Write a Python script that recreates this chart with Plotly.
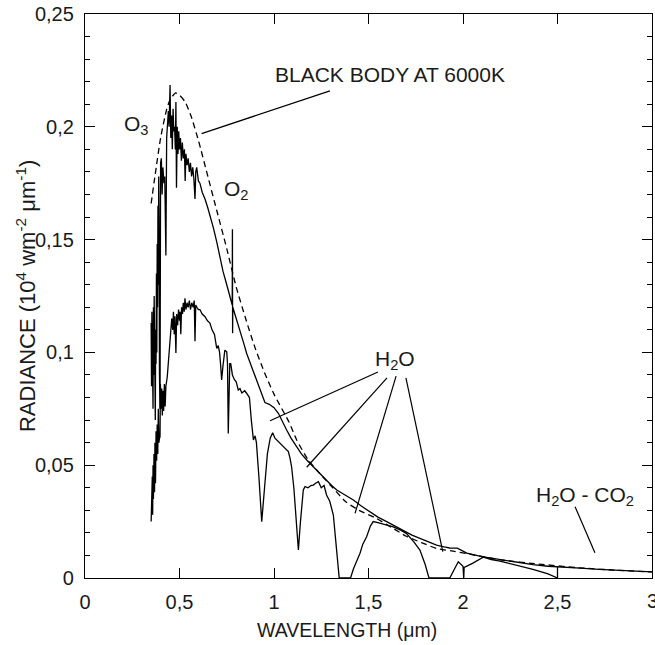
import plotly.graph_objects as go

# ---------------- data ----------------
bb_x = [0.35, 0.37, 0.40, 0.43, 0.45, 0.48, 0.50, 0.53, 0.56, 0.60, 0.65, 0.70, 0.75, 0.80,
        0.85, 0.90, 0.95, 1.00, 1.08, 1.12, 1.18, 1.24, 1.30, 1.38, 1.45, 1.54, 1.62, 1.70,
        1.78, 1.86, 1.94, 2.02, 2.2, 2.4, 2.6, 2.8, 3.0]
bb_y = [0.166, 0.178, 0.195, 0.207, 0.212, 0.215, 0.214, 0.211, 0.205, 0.194, 0.178, 0.162,
        0.146, 0.129, 0.115, 0.102, 0.091, 0.0815, 0.069, 0.0612, 0.0525, 0.0465, 0.041,
        0.0338, 0.0300, 0.0265, 0.0225, 0.0185, 0.0157, 0.0131, 0.0120, 0.0108, 0.0080,
        0.0062, 0.0046, 0.0035, 0.0027]

top_x = [0.350, 0.352, 0.354, 0.356, 0.358, 0.360, 0.362, 0.364, 0.366, 0.368, 0.370, 0.372,
         0.374, 0.376, 0.378, 0.380, 0.382, 0.384, 0.386, 0.388, 0.390, 0.392, 0.394, 0.396,
         0.397, 0.400, 0.404, 0.408, 0.412, 0.418, 0.422, 0.428, 0.432, 0.436, 0.441, 0.445,
         0.450, 0.454, 0.458, 0.462, 0.466, 0.470, 0.474, 0.478, 0.481, 0.484, 0.488, 0.492,
         0.496, 0.500, 0.505, 0.510, 0.515, 0.520, 0.526, 0.530, 0.534, 0.540, 0.546, 0.552,
         0.558, 0.564, 0.570, 0.576, 0.582, 0.586, 0.591, 0.600, 0.608, 0.620, 0.635, 0.650,
         0.665, 0.680, 0.697, 0.714, 0.730, 0.750, 0.770, 0.779, 0.780, 0.781, 0.782, 0.800,
         0.820, 0.840, 0.855, 0.875, 0.891, 0.910, 0.926, 0.952, 0.975, 1.000, 1.023, 1.045,
         1.067, 1.090, 1.120, 1.145, 1.173, 1.200, 1.226, 1.250, 1.279, 1.305, 1.332, 1.370,
         1.420, 1.460, 1.508, 1.550, 1.596, 1.640, 1.684, 1.730, 1.772, 1.820, 1.860, 1.900,
         1.930, 1.970, 2.000, 2.020, 2.100, 2.196, 2.280, 2.370, 2.450, 2.500, 2.550, 2.620,
         2.720, 2.800, 2.900, 2.960, 3.000]
top_y = [0.113, 0.085, 0.118, 0.080, 0.112, 0.075, 0.120, 0.090, 0.125, 0.085, 0.118, 0.070,
         0.110, 0.095, 0.135, 0.100, 0.148, 0.120, 0.165, 0.130, 0.178, 0.160, 0.090, 0.170,
         0.075, 0.184, 0.186, 0.170, 0.182, 0.175, 0.178, 0.143, 0.195, 0.200, 0.207, 0.200,
         0.2185, 0.195, 0.205, 0.190, 0.208, 0.198, 0.200, 0.190, 0.211, 0.173, 0.200, 0.188,
         0.198, 0.190, 0.195, 0.185, 0.193, 0.186, 0.190, 0.176, 0.188, 0.183, 0.186, 0.180,
         0.184, 0.178, 0.182, 0.177, 0.168, 0.180, 0.182, 0.176, 0.175, 0.171, 0.168, 0.164,
         0.160, 0.155, 0.149, 0.1424, 0.136, 0.130, 0.124, 0.121, 0.1546, 0.1085, 0.120, 0.115,
         0.110, 0.104, 0.0996, 0.095, 0.092, 0.087, 0.0835, 0.0778, 0.0770, 0.0755, 0.073, 0.069,
         0.0656, 0.062, 0.0582, 0.055, 0.0523, 0.050, 0.0479, 0.0455, 0.0434, 0.041, 0.039, 0.037,
         0.0346, 0.032, 0.0294, 0.027, 0.025, 0.023, 0.0213, 0.019, 0.0176, 0.016, 0.0146, 0.0138,
         0.0133, 0.0132, 0.0120, 0.0110, 0.0095, 0.0082, 0.0070, 0.0059, 0.0052, 0.0050, 0.0050,
         0.0044, 0.0038, 0.0034, 0.0030, 0.0028, 0.0027]

gnd_x = [0.350, 0.352, 0.354, 0.356, 0.358, 0.360, 0.362, 0.365, 0.368, 0.370, 0.373, 0.376,
         0.379, 0.382, 0.385, 0.388, 0.391, 0.394, 0.397, 0.399, 0.403, 0.406, 0.409, 0.412,
         0.416, 0.420, 0.424, 0.428, 0.435, 0.442, 0.450, 0.455, 0.459, 0.464, 0.468, 0.472,
         0.476, 0.481, 0.485, 0.490, 0.495, 0.500, 0.503, 0.507, 0.511, 0.516, 0.520, 0.525,
         0.529, 0.534, 0.540, 0.546, 0.552, 0.558, 0.565, 0.572, 0.578, 0.582, 0.586, 0.592,
         0.600, 0.608, 0.620, 0.635, 0.648, 0.661, 0.672, 0.685, 0.697, 0.705, 0.712, 0.718,
         0.723, 0.730, 0.740, 0.750, 0.754, 0.758, 0.762, 0.766, 0.771, 0.780, 0.790, 0.800,
         0.811, 0.820, 0.830, 0.845, 0.855, 0.870, 0.880, 0.891, 0.900, 0.907, 0.920, 0.935,
         0.950, 0.965, 0.980, 0.993, 1.005, 1.014, 1.030, 1.050, 1.076, 1.085, 1.093, 1.105,
         1.118, 1.129, 1.140, 1.150, 1.155, 1.164, 1.180, 1.195, 1.208, 1.220, 1.235, 1.250,
         1.265, 1.278, 1.295, 1.314, 1.328, 1.340, 1.345, 1.405, 1.420, 1.440, 1.455, 1.470,
         1.490, 1.510, 1.525, 1.550, 1.590, 1.631, 1.670, 1.700, 1.740, 1.772, 1.800, 1.816,
         1.820, 1.930, 1.975, 2.000, 2.004, 2.006, 2.050, 2.107, 2.150, 2.196, 2.280, 2.370,
         2.450, 2.496, 2.500, 2.500]
gnd_y = [0.025, 0.040, 0.030, 0.045, 0.028, 0.050, 0.035, 0.055, 0.038, 0.060, 0.042, 0.065,
         0.052, 0.068, 0.055, 0.075, 0.060, 0.062, 0.0626, 0.086, 0.075, 0.084, 0.072, 0.083,
         0.074, 0.086, 0.076, 0.085, 0.089, 0.098, 0.105, 0.112, 0.115, 0.110, 0.118, 0.108,
         0.116, 0.0997, 0.117, 0.112, 0.119, 0.114, 0.118, 0.108, 0.120, 0.117, 0.122, 0.118,
         0.124, 0.119, 0.122, 0.120, 0.123, 0.119, 0.122, 0.120, 0.123, 0.105, 0.121, 0.120,
         0.119, 0.119, 0.117, 0.1158, 0.114, 0.113, 0.110, 0.108, 0.1018, 0.103, 0.100, 0.094,
         0.0878, 0.094, 0.101, 0.1003, 0.095, 0.0641, 0.090, 0.095, 0.095, 0.090, 0.088, 0.087,
         0.0833, 0.084, 0.082, 0.083, 0.0819, 0.080, 0.070, 0.0612, 0.063, 0.060, 0.045, 0.025,
         0.040, 0.055, 0.062, 0.0644, 0.062, 0.0612, 0.060, 0.058, 0.056, 0.053, 0.0493, 0.040,
         0.025, 0.0124, 0.025, 0.036, 0.039, 0.0405, 0.040, 0.041, 0.0412, 0.042, 0.0427, 0.040,
         0.041, 0.0368, 0.034, 0.0279, 0.015, 0.002, 0.0, 0.0, 0.004, 0.008, 0.011, 0.015,
         0.0183, 0.023, 0.025, 0.0245, 0.0235, 0.0227, 0.0212, 0.0198, 0.016, 0.0124, 0.006, 0.001,
         0.0, 0.0, 0.0072, 0.0052, 0.0, 0.0047, 0.0065, 0.0092, 0.0082, 0.0075, 0.0058, 0.0038,
         0.0018, 0.0004, 0.0, 0.0049]

x_tickvals = [0, 0.5, 1, 1.5, 2, 2.5, 3]
x_ticktext = ["0", "0,5", "1", "1,5", "2", "2,5", "3"]
y_tickvals = [0, 0.05, 0.1, 0.15, 0.2, 0.25]
y_ticktext = ["0", "0,05", "0,1", "0,15", "0,2", "0,25"]

# leader lines: (x0, y0, x1, y1)
leaders = [
    (0.617, 0.197, 1.296, 0.2159),   # black body
    (0.979, 0.0697, 1.55, 0.0913),   # H2O 1
    (1.173, 0.0491, 1.598, 0.0887),  # H2O 2
    (1.429, 0.0287, 1.646, 0.0895),  # H2O 3
    (1.893, 0.0117, 1.698, 0.0887),  # H2O 4
    (2.593, 0.0316, 2.698, 0.0112),  # H2O - CO2
]

labels = [
    ("O<sub>3</sub>", 0.275, 0.2008, "center"),
    ("O<sub>2</sub>", 0.804, 0.172, "center"),
    ("BLACK BODY AT 6000K", 0.995, 0.2234, "left"),
    ("H<sub>2</sub>O", 1.64, 0.0966, "center"),
    ("H<sub>2</sub>O - CO<sub>2</sub>", 2.646, 0.0363, "center"),
]

FONT = "Liberation Sans, Arial, Helvetica, sans-serif"
TXT = "#1a1a1a"
fig = go.Figure()

fig.add_trace(go.Scatter(x=bb_x, y=bb_y, mode="lines",
                         line=dict(color="black", width=1.3, dash="6px,4px", shape="spline", smoothing=0.6),
                         hoverinfo="skip"))
fig.add_trace(go.Scatter(x=top_x, y=top_y, mode="lines",
                         line=dict(color="black", width=1.3), hoverinfo="skip"))
fig.add_trace(go.Scatter(x=gnd_x, y=gnd_y, mode="lines",
                         line=dict(color="black", width=1.3), hoverinfo="skip"))

for (x0, y0, x1, y1) in leaders:
    fig.add_trace(go.Scatter(x=[x0, x1], y=[y0, y1], mode="lines",
                             line=dict(color="black", width=1.2), hoverinfo="skip"))

for (txt, lx, ly, anchor) in labels:
    fig.add_annotation(x=lx, y=ly, xref="x", yref="y", text=txt, showarrow=False,
                       xanchor=anchor, yanchor="middle",
                       font=dict(family=FONT, size=21, color=TXT))

# last x tick label (clipped by the page edge, as in the reference)
fig.add_annotation(x=x_tickvals[-1], y=-0.041, xref="x", yref="paper", text=x_ticktext[-1],
                   showarrow=False, xanchor="center", yanchor="middle",
                   font=dict(family=FONT, size=20, color=TXT))

fig.add_annotation(x=1.386, y=-0.092, xref="x", yref="paper", text="WAVELENGTH (μm)",
                   showarrow=False, xanchor="center", yanchor="middle",
                   font=dict(family=FONT, size=19.5, color=TXT))
fig.add_annotation(x=-0.104, y=0.5, xref="paper", yref="paper",
                   text="RADIANCE (10<sup>4</sup> wm<sup>-2</sup> μm<sup>-1</sup>)",
                   textangle=-90, showarrow=False, xanchor="center", yanchor="middle",
                   font=dict(family=FONT, size=22, color=TXT))

axis_common = dict(showline=True, linecolor="black", linewidth=1.3, mirror="ticks",
                   ticks="inside", ticklen=10, tickwidth=1.2, tickcolor="black",
                   showgrid=False, zeroline=False,
                   tickfont=dict(family=FONT, size=20, color=TXT))

fig.update_xaxes(range=[0, 3], tickmode="array", tickvals=x_tickvals, ticktext=x_ticktext,
                 ticklabelstandoff=6, **axis_common)
fig.update_yaxes(range=[0, 0.25], tickmode="array", tickvals=y_tickvals, ticktext=y_ticktext,
                 ticklabelstandoff=6,
                 minor=dict(ticks="inside", ticklen=5, tickwidth=1, tickcolor="black",
                            dtick=0.01, tick0=0, showgrid=False),
                 **axis_common)

fig.update_layout(width=655, height=645, margin=dict(l=85, r=3, t=14, b=67),
                  plot_bgcolor="white", paper_bgcolor="white", showlegend=False)

fig.write_html("out.html")
